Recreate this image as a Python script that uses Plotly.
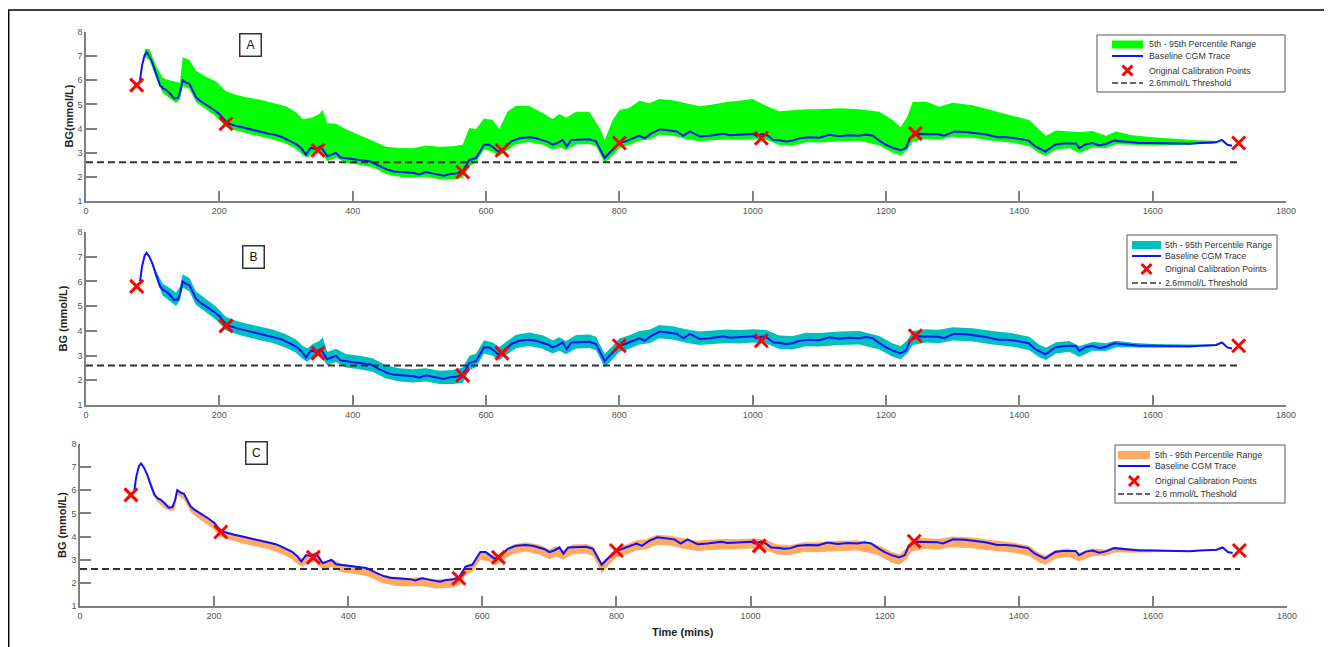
import plotly.graph_objects as go

# ---------------- data ----------------
t_base = [81, 84, 88, 91, 95, 100, 106, 111, 116, 120, 126, 132, 138, 142, 145, 150, 155, 160, 165, 171,
          177, 185, 192, 200, 205, 212, 220, 230, 242, 257, 272, 282, 292, 305, 317, 324, 330, 337, 345, 352,
          357, 362, 368, 375, 382, 395, 407, 417, 427, 440, 452, 462, 472, 482, 492, 500, 510, 520, 530, 537,
          546, 555, 565, 570, 575, 585, 590, 597, 605, 612, 618, 625, 632, 638, 650, 665, 675, 685, 693, 700,
          707, 715, 721, 728, 740, 755, 765, 772, 778, 785, 793, 800, 807, 815, 822, 830, 838, 848, 861, 873,
          886, 896, 906, 915, 921, 936, 946, 956, 966, 976, 990, 1001, 1006, 1016, 1023, 1031, 1040, 1050, 1060, 1070,
          1085, 1100, 1115, 1130, 1145, 1160, 1170, 1180, 1190, 1200, 1210, 1222, 1230, 1236, 1247, 1260, 1278, 1287, 1302, 1320,
          1335, 1350, 1368, 1380, 1395, 1405, 1414, 1424, 1432, 1439, 1447, 1454, 1465, 1478, 1485, 1490, 1500, 1510, 1520, 1530,
          1542, 1560, 1580, 1600, 1620, 1640, 1655, 1670, 1685, 1695, 1704, 1712, 1719]
bg_base = [6.00, 6.60, 7.05, 7.16, 7.00, 6.70, 6.20, 5.80, 5.65, 5.60, 5.45, 5.25, 5.27, 5.60, 6.00, 5.90, 5.85, 5.55, 5.30, 5.15,
           5.05, 4.90, 4.77, 4.60, 4.42, 4.22, 4.15, 4.08, 4.00, 3.90, 3.80, 3.75, 3.67, 3.50, 3.33, 3.15, 2.92, 3.20, 3.15, 3.26,
           3.05, 2.85, 2.92, 2.99, 2.80, 2.75, 2.71, 2.68, 2.64, 2.45, 2.30, 2.22, 2.19, 2.17, 2.16, 2.10, 2.20, 2.14, 2.10, 2.05,
           2.12, 2.14, 2.23, 2.45, 2.70, 2.78, 3.00, 3.33, 3.33, 3.20, 3.05, 3.10, 3.30, 3.47, 3.60, 3.64, 3.60, 3.53, 3.45, 3.33,
           3.40, 3.53, 3.26, 3.53, 3.55, 3.56, 3.47, 3.10, 2.78, 2.99, 3.20, 3.40, 3.45, 3.53, 3.60, 3.70, 3.60, 3.80, 3.97, 3.92,
           3.88, 3.70, 3.88, 3.75, 3.67, 3.70, 3.75, 3.78, 3.72, 3.74, 3.76, 3.78, 3.70, 3.78, 3.70, 3.53, 3.52, 3.47, 3.50, 3.60,
           3.64, 3.62, 3.74, 3.68, 3.72, 3.70, 3.75, 3.70, 3.50, 3.33, 3.20, 3.10, 3.20, 3.60, 3.78, 3.78, 3.76, 3.70, 3.88, 3.86,
           3.80, 3.75, 3.64, 3.64, 3.60, 3.55, 3.50, 3.26, 3.15, 3.05, 3.20, 3.33, 3.38, 3.40, 3.38, 3.19, 3.35, 3.40, 3.30, 3.36,
           3.50, 3.45, 3.40, 3.40, 3.39, 3.39, 3.37, 3.40, 3.40, 3.43, 3.53, 3.33, 3.29]

t_band = [88, 95, 105, 115, 125, 135, 141, 145, 155, 165,
          180, 195, 210, 225, 240, 260, 280, 300, 315, 325,
          332, 340, 350, 355, 362, 375, 390, 410, 430, 450,
          470, 490, 510, 530, 550, 565, 575, 585, 597, 610,
          620, 632, 645, 665, 685, 700, 710, 720, 735, 755,
          765, 772, 778, 790, 800, 815, 830, 845, 860, 880,
          900, 920, 940, 960, 980, 1000, 1020, 1040, 1060, 1080,
          1100, 1130, 1160, 1190, 1210, 1222, 1232, 1240, 1260, 1280,
          1300, 1330, 1360, 1390, 1415, 1430, 1440, 1455, 1475, 1490,
          1510, 1530, 1545, 1570, 1600, 1630, 1660, 1690, 1700]

a_upper = [7.30, 7.30, 6.60, 6.10, 6.00, 5.95, 5.90, 6.95, 6.85, 6.40,
           6.15, 5.95, 5.55, 5.40, 5.30, 5.20, 5.05, 4.92, 4.68, 4.40,
           4.42, 4.47, 4.60, 4.78, 4.22, 4.20, 3.97, 3.75, 3.50, 3.25,
           3.20, 3.19, 3.30, 3.25, 3.27, 3.33, 4.02, 3.98, 4.42, 4.35,
           3.98, 4.70, 4.95, 4.93, 4.65, 4.40, 4.60, 4.45, 4.70, 4.70,
           4.29, 3.95, 3.53, 4.36, 4.77, 4.85, 5.15, 5.05, 5.22, 5.17,
           5.05, 4.92, 5.00, 5.10, 5.15, 5.22, 4.95, 4.72, 4.76, 4.80,
           4.80, 4.84, 4.80, 4.70, 4.35, 4.05, 4.50, 5.10, 5.12, 4.90,
           5.07, 4.97, 4.75, 4.52, 4.35, 3.95, 3.70, 3.92, 3.90, 3.86,
           3.90, 3.70, 3.88, 3.72, 3.64, 3.58, 3.53, 3.50, 3.47]
a_lower = [6.95, 6.85, 6.10, 5.48, 5.27, 5.06, 5.20, 5.75, 5.65, 5.10,
           4.80, 4.50, 4.07, 3.92, 3.81, 3.68, 3.56, 3.37, 3.16, 2.91,
           2.80, 2.98, 3.03, 2.93, 2.65, 2.79, 2.57, 2.50, 2.40, 2.12,
           2.00, 1.96, 2.00, 1.90, 1.90, 1.95, 2.45, 2.58, 3.13, 3.04,
           2.86, 3.10, 3.35, 3.44, 3.33, 3.13, 3.25, 3.10, 3.34, 3.36,
           3.27, 2.90, 2.58, 2.90, 3.20, 3.33, 3.50, 3.55, 3.75, 3.70,
           3.57, 3.48, 3.52, 3.56, 3.54, 3.58, 3.54, 3.32, 3.30, 3.43,
           3.42, 3.48, 3.50, 3.30, 3.00, 2.90, 3.10, 3.45, 3.58, 3.55,
           3.66, 3.62, 3.50, 3.41, 3.27, 2.98, 2.87, 3.13, 3.20, 2.99,
           3.22, 3.20, 3.35, 3.32, 3.30, 3.32, 3.33, 3.37, 3.43]

b_upper = [7.05, 7.00, 6.42, 5.92, 5.74, 5.54, 5.79, 6.29, 6.14, 5.59,
           5.29, 4.99, 4.56, 4.41, 4.30, 4.17, 4.05, 3.86, 3.65, 3.40,
           3.29, 3.47, 3.59, 3.74, 3.14, 3.28, 3.06, 2.99, 2.89, 2.61,
           2.49, 2.45, 2.49, 2.39, 2.42, 2.52, 2.99, 3.07, 3.62, 3.53,
           3.35, 3.59, 3.84, 3.93, 3.82, 3.62, 3.74, 3.59, 3.83, 3.85,
           3.76, 3.39, 3.07, 3.39, 3.69, 3.82, 3.99, 4.04, 4.24, 4.19,
           4.06, 3.97, 4.01, 4.05, 4.03, 4.07, 4.03, 3.81, 3.79, 3.92,
           3.91, 3.97, 3.99, 3.79, 3.49, 3.39, 3.62, 3.99, 4.07, 4.04,
           4.15, 4.11, 3.99, 3.90, 3.76, 3.44, 3.32, 3.54, 3.59, 3.39,
           3.55, 3.50, 3.60, 3.52, 3.47, 3.45, 3.43, 3.44, 3.46]
b_lower = [7.05, 7.00, 6.13, 5.43, 5.22, 5.01, 5.25, 5.75, 5.60, 5.05,
           4.75, 4.45, 4.02, 3.87, 3.76, 3.63, 3.51, 3.32, 3.11, 2.86,
           2.75, 2.93, 2.98, 2.88, 2.60, 2.74, 2.52, 2.45, 2.35, 2.07,
           1.95, 1.91, 1.95, 1.85, 1.85, 1.89, 2.42, 2.53, 3.08, 2.99,
           2.81, 3.05, 3.30, 3.39, 3.28, 3.08, 3.20, 3.05, 3.29, 3.31,
           3.22, 2.85, 2.53, 2.85, 3.15, 3.28, 3.45, 3.50, 3.70, 3.65,
           3.52, 3.43, 3.47, 3.51, 3.49, 3.53, 3.49, 3.27, 3.25, 3.38,
           3.37, 3.43, 3.45, 3.25, 2.95, 2.85, 3.08, 3.43, 3.53, 3.50,
           3.61, 3.57, 3.45, 3.36, 3.22, 2.93, 2.82, 3.08, 3.15, 2.94,
           3.20, 3.19, 3.34, 3.32, 3.32, 3.33, 3.34, 3.38, 3.44]

c_upper = [7.05, 7.00, 6.30, 5.72, 5.50, 5.30, 5.55, 6.05, 5.90, 5.35,
           5.05, 4.75, 4.32, 4.17, 4.06, 3.93, 3.81, 3.62, 3.41, 3.16,
           3.05, 3.23, 3.30, 3.35, 2.90, 3.04, 2.82, 2.75, 2.65, 2.37,
           2.25, 2.21, 2.25, 2.15, 2.18, 2.28, 2.75, 2.85, 3.38, 3.30,
           3.12, 3.38, 3.65, 3.75, 3.65, 3.45, 3.58, 3.42, 3.66, 3.68,
           3.58, 3.20, 2.88, 3.22, 3.52, 3.66, 3.84, 3.88, 4.08, 4.04,
           3.92, 3.82, 3.86, 3.90, 3.88, 3.92, 3.88, 3.66, 3.64, 3.76,
           3.75, 3.82, 3.84, 3.64, 3.34, 3.24, 3.48, 3.88, 3.94, 3.90,
           4.00, 3.96, 3.84, 3.74, 3.60, 3.30, 3.18, 3.42, 3.48, 3.30,
           3.48, 3.44, 3.55, 3.48, 3.44, 3.42, 3.40, 3.43, 3.46]
c_lower = [7.05, 7.00, 6.10, 5.50, 5.25, 5.10, 5.15, 5.80, 5.60, 5.05,
           4.72, 4.42, 3.98, 3.84, 3.72, 3.58, 3.46, 3.26, 3.04, 2.80,
           2.70, 2.88, 2.92, 2.82, 2.55, 2.68, 2.46, 2.38, 2.28, 2.00,
           1.88, 1.84, 1.86, 1.76, 1.78, 1.88, 2.35, 2.45, 3.00, 2.92,
           2.75, 3.00, 3.25, 3.35, 3.22, 3.02, 3.15, 3.00, 3.25, 3.26,
           3.16, 2.78, 2.42, 2.80, 3.10, 3.24, 3.40, 3.45, 3.65, 3.60,
           3.47, 3.38, 3.42, 3.45, 3.44, 3.48, 3.44, 3.22, 3.20, 3.33,
           3.32, 3.38, 3.40, 3.20, 2.88, 2.78, 3.00, 3.36, 3.46, 3.44,
           3.54, 3.50, 3.40, 3.31, 3.17, 2.88, 2.78, 3.05, 3.12, 2.92,
           3.15, 3.18, 3.32, 3.30, 3.32, 3.34, 3.35, 3.39, 3.44]

t_cal = [76, 210, 348, 565, 624, 800, 1013, 1244, 1729]
bg_cal = [5.8, 4.2, 3.1, 2.2, 3.1, 3.4, 3.6, 3.8, 3.4]

t_thresh = [0, 1730]
bg_thresh = [2.6, 2.6]

panel_letters = ["A", "B", "C"]
ylabels = ["BG(mmol/L)", "BG (mmol/L)", "BG (mmol/L)"]
band_colors = ["#00ff00", "#00bfbf", "#ffaa60"]
band_name = "5th - 95th Percentile Range"
base_name = "Baseline CGM Trace"
cal_name = "Original Calibration Points"
thresh_names = ["2.6mmol/L Threshold", "2.6mmol/L Threshold", "2.6 mmol/L Theshold"]
x_ticks = [0, 200, 400, 600, 800, 1000, 1200, 1400, 1600, 1800]
y_ticks = [1, 2, 3, 4, 5, 6, 7, 8]
xlabel = "Time (mins)"

bands = [(a_lower, a_upper), (b_lower, b_upper), (c_lower, c_upper)]

# ---------------- layout geometry (reference-page pixels) ----------------
W, H = 1332, 647
OFF = 8  # page body margin


def PX(x):
    return (x - OFF) / W


def PY(y):
    return 1 - (y - OFF) / H


px_x = [(86, 1286), (86, 1286), (80, 1287)]
px_y = [(32, 201), (232, 405), (444, 606)]
letter_pos = [(250, 45), (253, 257), (256, 453)]
ylab_x = [68, 62, 62]
# legend boxes: (x0, y0, x1, y1), row centres, swatch x-range, text x
legends = [
    dict(box=(1097, 35, 1285, 92), rows=(44.5, 56, 70.5, 83), sw=(1112, 1143), tx=1147),
    dict(box=(1127, 235, 1277, 289), rows=(245, 256, 269, 283), sw=(1132, 1161), tx=1163),
    dict(box=(1115, 445, 1285, 503), rows=(455, 466, 481, 494), sw=(1118, 1150), tx=1153),
]

FONT = "Arial, Liberation Sans, sans-serif"

fig = go.Figure()
for i in range(3):
    sfx = "" if i == 0 else str(i + 1)
    xa, ya = "x" + sfx, "y" + sfx
    lo, up = bands[i]
    fig.add_trace(go.Scatter(x=t_band, y=lo, xaxis=xa, yaxis=ya, mode="lines",
                             line=dict(width=0, color=band_colors[i]), showlegend=False, hoverinfo="skip"))
    fig.add_trace(go.Scatter(x=t_band, y=up, xaxis=xa, yaxis=ya, mode="lines",
                             line=dict(width=0, color=band_colors[i]), fill="tonexty",
                             fillcolor=band_colors[i], name=band_name, showlegend=False))
    fig.add_trace(go.Scatter(x=t_thresh, y=bg_thresh, xaxis=xa, yaxis=ya, mode="lines",
                             line=dict(color="#333333", width=2, dash="7px,4px"),
                             name=thresh_names[i], showlegend=False))
    fig.add_trace(go.Scatter(x=t_base, y=bg_base, xaxis=xa, yaxis=ya, mode="lines",
                             line=dict(color="#1010ff", width=2), name=base_name, showlegend=False))
    fig.add_trace(go.Scatter(x=t_cal, y=bg_cal, xaxis=xa, yaxis=ya, mode="markers",
                             marker=dict(symbol="x-thin", size=13, line=dict(color="#ff0000", width=3),
                                         color="#ff0000"),
                             name=cal_name, showlegend=False))

    x0, x1 = px_x[i]
    yt, yb = px_y[i]
    axis_common = dict(showline=True, linecolor="#808080", linewidth=1.5, mirror=False,
                       ticks="inside", tickcolor="#808080", tickwidth=1.5,
                       showgrid=False, zeroline=False,
                       tickfont=dict(family=FONT, size=9, color="#555555"))
    fig.update_layout(**{
        "xaxis" + sfx: dict(domain=[PX(x0), PX(x1)], range=[0, 1800], tickvals=x_ticks,
                            ticklen=10, anchor=ya, **axis_common),
        "yaxis" + sfx: dict(domain=[PY(yb), PY(yt)], range=[1, 8], tickvals=y_ticks,
                            ticklen=11, anchor=xa, **axis_common),
    })
    fig.add_annotation(xref="paper", yref="paper", x=PX(letter_pos[i][0]), y=PY(letter_pos[i][1]),
                       text=panel_letters[i], showarrow=False, xanchor="center", yanchor="middle",
                       font=dict(family=FONT, size=12, color="#111111"),
                       bordercolor="#333333", borderwidth=1.5, borderpad=3, bgcolor="white",
                       width=14, height=15)
    fig.add_annotation(xref="paper", yref="paper", x=PX(ylab_x[i]), y=PY((yt + yb) / 2),
                       text="<b>" + ylabels[i] + "</b>", showarrow=False, textangle=-90,
                       xanchor="center", yanchor="middle",
                       font=dict(family=FONT, size=11, color="#222222"))

    # ---- legend box (drawn with shapes + text) ----
    L = legends[i]
    bx0, by0, bx1, by1 = L["box"]
    r0, r1, r2, r3 = L["rows"]
    s0, s1 = L["sw"]
    fig.add_shape(type="rect", xref="paper", yref="paper", x0=PX(bx0), x1=PX(bx1), y0=PY(by1), y1=PY(by0),
                  line=dict(color="#555555", width=1), fillcolor="white")
    fig.add_shape(type="rect", xref="paper", yref="paper", x0=PX(s0), x1=PX(s1), y0=PY(r0 + 4), y1=PY(r0 - 4),
                  line=dict(width=0), fillcolor=band_colors[i])
    fig.add_shape(type="line", xref="paper", yref="paper", x0=PX(s0), x1=PX(s1), y0=PY(r1), y1=PY(r1),
                  line=dict(color="#1010ff", width=2))
    cx = (s0 + s1) / 2
    for d in (-1, 1):
        fig.add_shape(type="line", xref="paper", yref="paper", x0=PX(cx - 5), x1=PX(cx + 5),
                      y0=PY(r2 - 5 * d), y1=PY(r2 + 5 * d), line=dict(color="#ff0000", width=3))
    fig.add_shape(type="line", xref="paper", yref="paper", x0=PX(s0), x1=PX(s1), y0=PY(r3), y1=PY(r3),
                  line=dict(color="#333333", width=1.5, dash="6px,3px"))
    for r, txt in zip((r0, r1, r2, r3), (band_name, base_name, cal_name, thresh_names[i])):
        fig.add_annotation(xref="paper", yref="paper", x=PX(L["tx"]), y=PY(r), text=txt, showarrow=False,
                           xanchor="left", yanchor="middle",
                           font=dict(family=FONT, size=8.8, color="#333333"))

fig.add_annotation(xref="paper", yref="paper", x=PX(683), y=PY(632), text="<b>" + xlabel + "</b>",
                   showarrow=False, xanchor="center", yanchor="middle",
                   font=dict(family=FONT, size=11, color="#222222"))

fig.add_shape(type="rect", xref="paper", yref="paper", x0=PX(8.7), x1=PX(1329), y0=-0.05, y1=PY(10),
              line=dict(color="#000000", width=1.5), layer="below")

fig.update_layout(width=W, height=H, margin=dict(l=0, r=0, t=0, b=0, autoexpand=False),
                  paper_bgcolor="white", plot_bgcolor="white", showlegend=False,
                  font=dict(family=FONT))

fig.write_html("out.html")
